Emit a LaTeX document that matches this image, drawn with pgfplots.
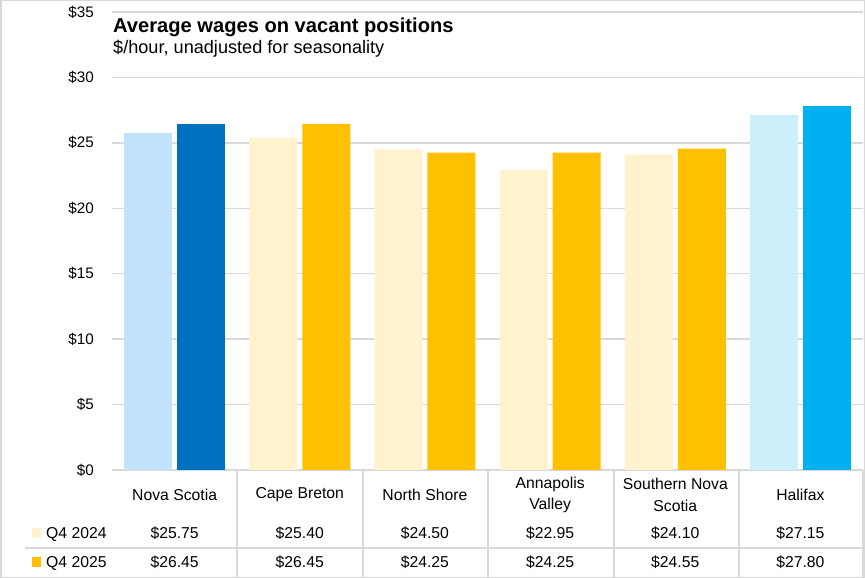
\documentclass[border=0pt]{standalone}
\usepackage{pgfplots}
\pgfplotsset{compat=1.18}
\usepackage{fontspec}
\setmainfont{Liberation Sans}

\definecolor{gridgray}{HTML}{D9D9D9}
\definecolor{nslight}{HTML}{C0E2FB}
\definecolor{nsdark}{HTML}{0070C0}
\definecolor{cream}{HTML}{FFF2CC}
\definecolor{gold}{HTML}{FFC000}
\definecolor{hxlight}{HTML}{CCEFFC}
\definecolor{hxdark}{HTML}{00B0F0}

\newcommand{\tfont}{\fontsize{15.8}{21.5}\selectfont}

\begin{document}
\begin{tikzpicture}
\useasboundingbox (0,0) rectangle (865bp,578bp);
\draw[gridgray, line width=1.5bp] (0.75bp,0.75bp) rectangle (864.25bp,577.25bp);

\begin{axis}[
  at={(112bp,108bp)}, anchor=south west,
  scale only axis, width=751bp, height=458bp,
  xmin=-0.5, xmax=5.5, ymin=0, ymax=35,
  ytick={0,5,...,35},
  yticklabel={\$\pgfmathprintnumber{\tick}},
  /pgf/number format/assume math mode=true,
  xtick=\empty,
  axis line style={draw=none},
  ymajorgrids, grid style={gridgray, line width=1.5bp},
  major tick length=0pt,
  yticklabel style={font=\fontsize{15.3}{18}\selectfont, inner sep=0pt, xshift=-18bp},
  ybar, bar width=48bp,
  clip=false,
]
% Q4 2024
\addplot[fill=nslight, draw=none, bar shift=-26.5bp] coordinates {(0,25.75)};
\addplot[fill=cream,   draw=none, bar shift=-26.5bp] coordinates {(1,25.40) (2,24.50) (3,22.95) (4,24.10)};
\addplot[fill=hxlight, draw=none, bar shift=-26.5bp] coordinates {(5,27.15)};
% Q4 2025
\addplot[fill=nsdark,  draw=none, bar shift=26.5bp] coordinates {(0,26.45)};
\addplot[fill=gold,    draw=none, bar shift=26.5bp] coordinates {(1,26.45) (2,24.25) (3,24.25) (4,24.55)};
\addplot[fill=hxdark,  draw=none, bar shift=26.5bp] coordinates {(5,27.80)};
\end{axis}

% title
\node[anchor=base west, inner sep=0pt, font=\fontsize{20.2}{24}\selectfont\bfseries] at (113bp,545bp) {Average wages on vacant positions};
\node[anchor=base west, inner sep=0pt, font=\fontsize{18.2}{22}\selectfont] at (113bp,524bp) {\$/hour, unadjusted for seasonality};

% data table
\foreach \x in {237,363,488,614,739,863} \draw[gridgray, line width=1.5bp] (\x bp,1bp) -- (\x bp,108bp);
\draw[gridgray, line width=1.5bp] (25bp,30bp) -- (863bp,30bp);

\foreach \x/\c/\a/\b in {174.6/Nova Scotia/25.75/26.45,
                          299.8/Cape Breton/25.40/26.45,
                          424.9/North Shore/24.50/24.25,
                          550.1/Annapolis\\Valley/22.95/24.25,
                          675.3/Southern Nova\\Scotia/24.10/24.55,
                          800.4/Halifax/27.15/27.80}{
  \node[font=\tfont, align=center, inner sep=0pt] at (\x bp,83bp) {\c};
  \node[font=\tfont, inner sep=0pt] at (\x bp,45bp) {\$\a};
  \node[font=\tfont, inner sep=0pt] at (\x bp,16bp) {\$\b};
}

\fill[cream] (32bp,40bp) rectangle (41bp,50bp);
\fill[gold]  (32bp,11bp) rectangle (41bp,21bp);
\node[font=\tfont, anchor=base west, inner sep=0pt] at (46bp,39.5bp) {Q4 2024};
\node[font=\tfont, anchor=base west, inner sep=0pt] at (46bp,10.5bp) {Q4 2025};
\end{tikzpicture}
\end{document}
